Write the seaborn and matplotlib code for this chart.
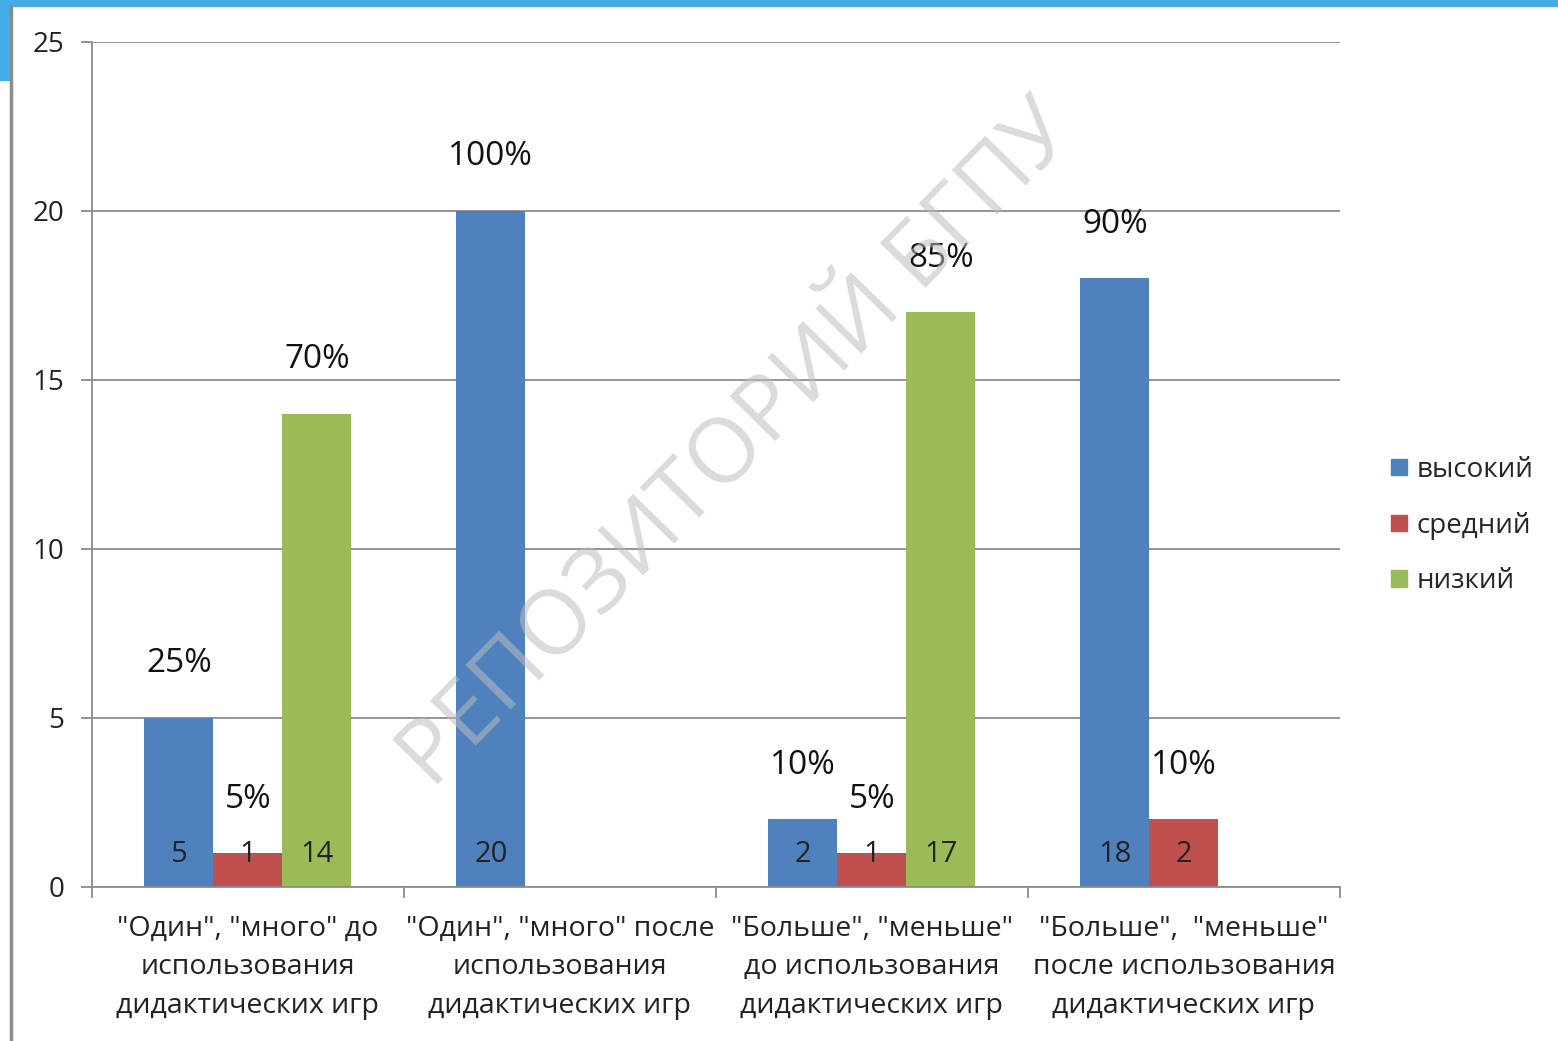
import numpy as np
import pandas as pd
import matplotlib
matplotlib.use("Agg")
import matplotlib.pyplot as plt
import matplotlib.patches as mpatches
import seaborn as sns

# data
categories = [
    '"Один", "много" до\nиспользования\nдидактических игр',
    '"Один", "много" после\nиспользования\nдидактических игр',
    '"Больше", "меньше"\nдо использования\nдидактических игр',
    '"Больше",  "меньше"\nпосле использования\nдидактических игр',
]
levels = ["высокий", "средний", "низкий"]
high = [5, 20, 2, 18]
mid = [1, 0, 1, 2]
low = [14, 0, 17, 0]
high_pct = ["25%", "100%", "10%", "90%"]
mid_pct = ["5%", "", "5%", "10%"]
low_pct = ["70%", "", "85%", ""]
colors = ["#4F81BD", "#C0504D", "#9BBB59"]

df = pd.DataFrame({
    "cat": categories * 3,
    "level": np.repeat(levels, 4),
    "value": high + mid + low,
})

sns.set_style("white")
plt.rcParams["font.family"] = ["Open Sans", "DejaVu Sans"]

fig = plt.figure(figsize=(15.58, 10.41), dpi=100)
ax = fig.add_axes([0.059, 0.148, 0.801, 0.812])

sns.barplot(data=df, x="cat", y="value", hue="level", hue_order=levels,
            order=categories, palette=colors, width=0.664, gap=0,
            saturation=1, edgecolor="none", legend=False, ax=ax, zorder=2)

ax.set_ylim(0, 25)
ax.set_xlim(-0.5, 3.5)
ax.set_yticks(range(0, 26, 5))
ax.yaxis.grid(True, color="#8c8c8c", linewidth=1.3)
ax.set_axisbelow(True)
ax.set_xlabel("")
ax.set_ylabel("")
for s in ["top", "right"]:
    ax.spines[s].set_visible(False)
for s in ["left", "bottom"]:
    ax.spines[s].set_color("#8c8c8c")
    ax.spines[s].set_linewidth(1.3)

ax.tick_params(axis="y", length=8, width=1.3, color="#8c8c8c", pad=12,
               labelsize=20, labelcolor="#222222", left=True)
ax.tick_params(axis="x", which="major", length=0, pad=20,
               labelsize=20.5, labelcolor="#222222")
ax.set_xticks(np.arange(-0.5, 4, 1), minor=True)
ax.tick_params(axis="x", which="minor", length=8, width=1.3,
               color="#8c8c8c", bottom=True)
for lab in ax.get_xticklabels():
    lab.set_linespacing(1.5)

# value labels inside, percent labels above
pcts = [high_pct, mid_pct, low_pct]
for cont, pl in zip(ax.containers, pcts):
    for bar, p in zip(cont, pl):
        h = bar.get_height()
        if h == 0:
            continue
        xc = bar.get_x() + bar.get_width() / 2
        ax.text(xc, 0.95, f"{int(h)}", ha="center", va="center",
                fontsize=21, color="#222222", zorder=4)
        ax.text(xc, h + 1.6, p, ha="center", va="center",
                fontsize=24, color="#111111", zorder=4)

# legend on the right
handles = [mpatches.Patch(color=c, label=l) for c, l in zip(colors, levels)]
fig.legend(handles=handles, loc="center left", bbox_to_anchor=(0.877, 0.495),
           frameon=False, fontsize=20, handlelength=0.55, handleheight=0.55,
           handletextpad=0.35, labelspacing=1.0)

# watermark
fig.text(0.474, 0.572, "РЕПОЗИТОРИЙ БГПУ", rotation=45.5, fontsize=65,
         color="#bdbdbd", alpha=0.55, ha="center", va="center", zorder=10)

# slide border
fig.patches.append(mpatches.Rectangle((0, 1 - 6 / 1041), 1, 6 / 1041,
                   transform=fig.transFigure, color="#42ADE9", zorder=0))
fig.patches.append(mpatches.Rectangle((0, 1 - 80 / 1041), 10 / 1558, 80 / 1041,
                   transform=fig.transFigure, color="#42ADE9", zorder=0))
fig.lines.append(plt.Line2D([10.5 / 1558, 10.5 / 1558], [0, 1 - 6 / 1041],
                 transform=fig.transFigure, color="#8c8c8c", linewidth=2.5))

fig.savefig("out.png", dpi=100)
